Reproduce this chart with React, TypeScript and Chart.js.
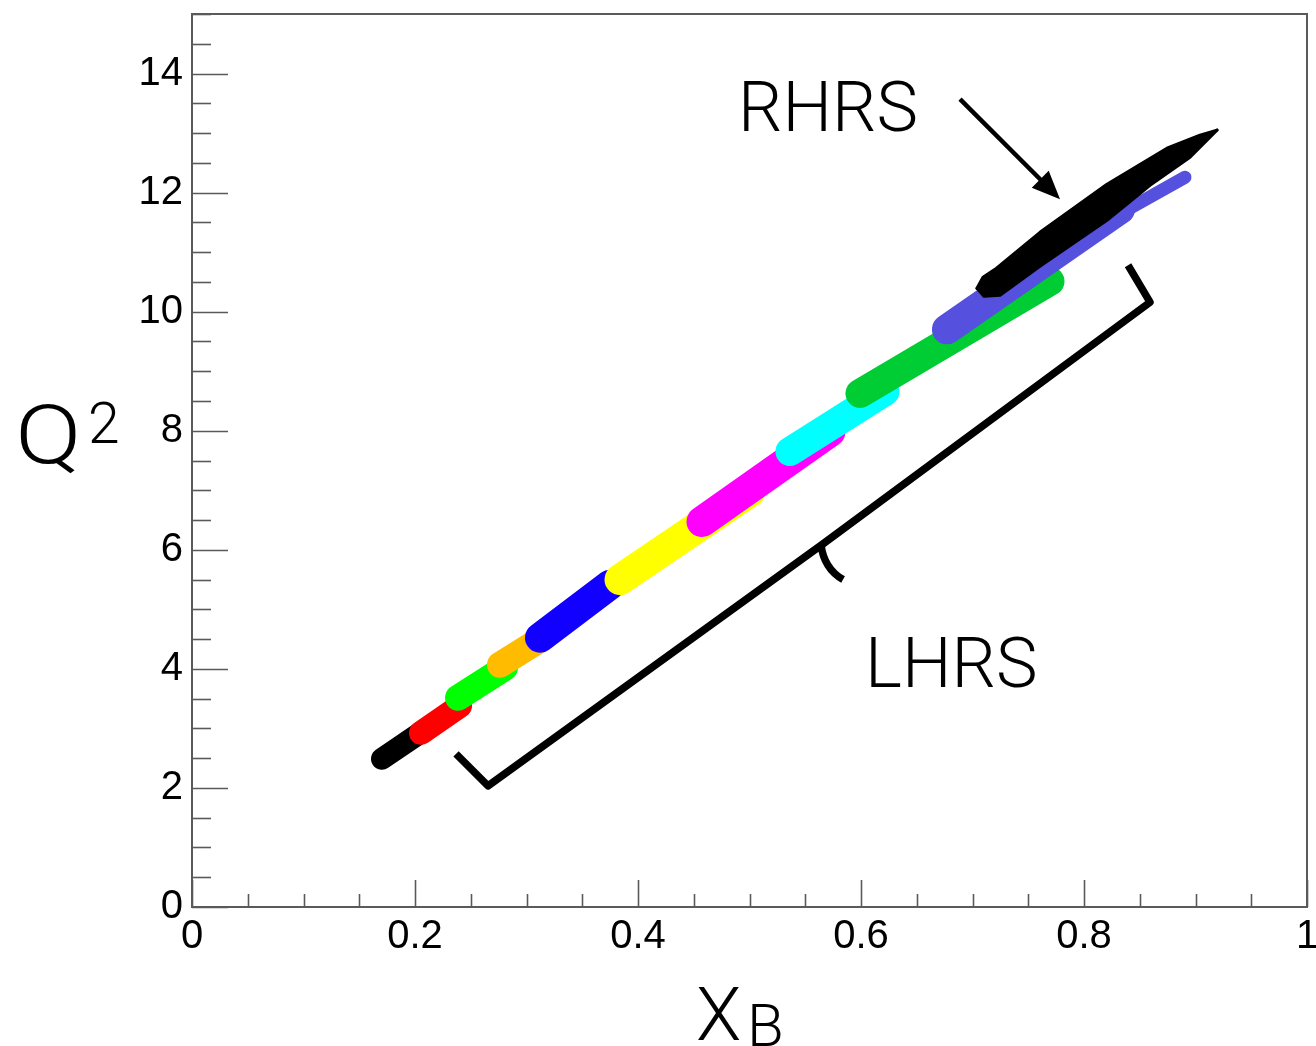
import React, { useEffect, useRef } from 'react';
import { Chart, registerables } from 'chart.js';

Chart.register(...registerables);

// Axis ticks
const xTicks = [0, 0.2, 0.4, 0.6, 0.8, 1];
const xTickLabels = ['0', '0.2', '0.4', '0.6', '0.8', '1'];
const yTicks = [0, 2, 4, 6, 8, 10, 12, 14];
const yTickLabels = ['0', '2', '4', '6', '8', '10', '12', '14'];

// LHRS kinematic bins: [xB, Q2] centre-line points of each populated band
const lhrsBin1 = [[0.1704, 2.49], [0.2152, 3.06]];
const lhrsBin2 = [[0.2054, 2.926], [0.2404, 3.38]];
const lhrsBin3 = [[0.2386, 3.514], [0.2807, 4.019]];
const lhrsBin4 = [[0.2762, 4.069], [0.3121, 4.49]];
const lhrsBin5 = [[0.3121, 4.523], [0.3749, 5.414]];
const lhrsBin6 = [[0.3839, 5.499], [0.5004, 6.978]];
const lhrsBin7 = [[0.4574, 6.474], [0.5722, 7.987]];
const lhrsBin8 = [[0.5363, 7.651], [0.6215, 8.66]];
const lhrsBin9 = [[0.5991, 8.626], [0.7695, 10.51]];
const lhrsBin10 = [[0.6771, 9.703], [0.8323, 11.72]];
const lhrsBin10Tail = [[0.8233, 11.55], [0.8906, 12.258]];
// RHRS band: upper and lower envelope [xB, Q2]
const rhrsUpperEdge = [
  [0.704, 10.392], [0.7094, 10.577], [0.7202, 10.711], [0.7605, 11.333],
  [0.8206, 12.14], [0.8744, 12.746], [0.904, 12.965], [0.9193, 13.049],
];
const rhrsLowerEdge = [
  [0.704, 10.392], [0.7103, 10.257], [0.7247, 10.274], [0.7605, 10.762],
  [0.8206, 11.535], [0.8592, 12.123], [0.8951, 12.594], [0.9193, 13.049],
];

const seriesList = [
  lhrsBin1, lhrsBin2, lhrsBin3, lhrsBin4, lhrsBin5, lhrsBin6, lhrsBin7,
  lhrsBin8, lhrsBin9, lhrsBin10, lhrsBin10Tail, rhrsUpperEdge, rhrsLowerEdge,
];
const seriesColors = [
  '#000000', '#ff0000', '#00ff00', '#ffbb00', '#1100ff', '#ffff00', '#ff00ff',
  '#00ffff', '#00cc33', '#5550dd', '#5550dd', '#000000', '#000000',
];
const seriesWidths = [22, 24, 26, 26, 30, 31, 31, 29, 29, 30, 13, 3, 3];
const seriesFill: (false | string)[] = [
  false, false, false, false, false, false, false, false, false, false, false, '+1', false,
];

const decor = {
  id: 'decor',
  afterDraw(chart: any) {
    const { ctx, chartArea: a, scales } = chart;
    const xs = scales.x;
    const ys = scales.y;
    ctx.save();
    // frame
    ctx.strokeStyle = '#5a5a5a';
    ctx.lineWidth = 2;
    ctx.strokeRect(a.left, a.top, a.right - a.left, a.bottom - a.top);
    // y ticks (inward)
    ctx.lineWidth = 1.6;
    for (let i = 0; i <= 30; i++) {
      const v = i * 0.5;
      if (v > ys.max) break;
      const py = Math.round(ys.getPixelForValue(v)) + 0.5;
      const len = i % 4 === 0 ? 36 : 19;
      ctx.beginPath();
      ctx.moveTo(a.left, py);
      ctx.lineTo(a.left + len, py);
      ctx.stroke();
    }
    // x ticks (inward)
    for (let i = 0; i <= 20; i++) {
      const v = i * 0.05;
      const px = Math.round(xs.getPixelForValue(v)) + 0.5;
      const len = i % 4 === 0 ? 27 : 13;
      ctx.beginPath();
      ctx.moveTo(px, a.bottom);
      ctx.lineTo(px, a.bottom - len);
      ctx.stroke();
    }

    const P = (x: number, y: number) => [xs.getPixelForValue(x), ys.getPixelForValue(y)];

    // Arrow to RHRS band
    ctx.strokeStyle = '#000';
    ctx.fillStyle = '#000';
    const [sx, sy] = P(0.6888, 13.57);
    const [tx, ty] = P(0.7785, 11.89);
    const dx = tx - sx, dy = ty - sy;
    const L = Math.hypot(dx, dy);
    const ux = dx / L, uy = dy / L;
    const bx = tx - ux * 28, by = ty - uy * 28;
    ctx.lineWidth = 4.5;
    ctx.beginPath();
    ctx.moveTo(sx, sy);
    ctx.lineTo(bx + ux * 2, by + uy * 2);
    ctx.stroke();
    ctx.beginPath();
    ctx.moveTo(tx, ty);
    ctx.lineTo(bx - uy * 12, by + ux * 12);
    ctx.lineTo(bx + uy * 12, by - ux * 12);
    ctx.closePath();
    ctx.fill();

    // Brace for LHRS
    ctx.lineWidth = 7.5;
    ctx.lineJoin = 'round';
    ctx.lineCap = 'butt';
    const brace = [[0.8395, 10.78], [0.8592, 10.16], [0.565, 6.087], [0.2655, 2.035], [0.2368, 2.573]];
    ctx.beginPath();
    brace.forEach(([bxv, byv], i) => {
      const [px, py] = P(bxv, byv);
      if (i === 0) ctx.moveTo(px, py); else ctx.lineTo(px, py);
    });
    ctx.stroke();
    const [m1x, m1y] = P(0.565, 6.087);
    const [m2x, m2y] = P(0.5839, 5.5);
    ctx.beginPath();
    ctx.moveTo(m1x - 1, m1y);
    ctx.quadraticCurveTo(m1x + 2, m1y + 24, m2x, m2y);
    ctx.stroke();

    // Labels
    ctx.fillStyle = '#000';
    ctx.textBaseline = 'alphabetic';
    ctx.textAlign = 'left';
    ctx.font = '300 70px Roboto, "Liberation Sans", sans-serif';
    const [rx, ry] = P(0.4897, 13.03);
    ctx.fillText('RHRS', rx, ry);
    const [lx, ly] = P(0.6036, 3.7);
    ctx.fillText('LHRS', lx, ly);

    // Axis titles
    ctx.save();
    ctx.translate(15, 463);
    ctx.scale(1.2, 1);
    ctx.font = '300 82px Roboto, "Liberation Sans", sans-serif';
    ctx.fillText('Q', 0, 0);
    ctx.restore();
    ctx.font = '300 57px Roboto, "Liberation Sans", sans-serif';
    ctx.fillText('2', 88, 443);
    ctx.font = '300 74px Roboto, "Liberation Sans", sans-serif';
    ctx.fillText('X', 696, 1040);
    ctx.font = '300 60px Roboto, "Liberation Sans", sans-serif';
    ctx.fillText('B', 747, 1046);
    ctx.restore();
  },
};

export default function App() {
  const ref = useRef<HTMLCanvasElement>(null);
  useEffect(() => {
    document.body.style.margin = '0';
    const datasets = seriesList.map((pts, i) => ({
      data: pts.map(([x, y]) => ({ x, y })),
      showLine: true,
      borderColor: seriesColors[i],
      backgroundColor: seriesColors[i],
      borderWidth: seriesWidths[i],
      borderCapStyle: 'round' as const,
      borderJoinStyle: 'round' as const,
      pointRadius: 0,
      pointHoverRadius: 0,
      fill: seriesFill[i],
      tension: 0,
      order: seriesList.length - i,
    }));
    const chart = new Chart(ref.current!, {
      type: 'scatter',
      data: { datasets } as any,
      options: {
        animation: false,
        responsive: false,
        events: [],
        layout: { padding: { top: 14, right: 9, left: 0, bottom: 0 } },
        plugins: { legend: { display: false }, tooltip: { enabled: false } },
        scales: {
          x: {
            type: 'linear',
            min: 0,
            max: 1,
            grid: { display: false, drawTicks: false },
            border: { display: false },
            afterBuildTicks: (s: any) => { s.ticks = xTicks.map((v) => ({ value: v })); },
            afterFit: (s: any) => { s.height = 139; s.paddingLeft = 0; s.paddingRight = 0; },
            ticks: {
              padding: 6,
              color: '#000',
              maxRotation: 0,
              autoSkip: false,
              font: { family: '"Liberation Sans", Arial, sans-serif', size: 40 },
              callback: (_v: any, i: number) => xTickLabels[i],
            },
          },
          y: {
            type: 'linear',
            min: 0,
            max: 15,
            grid: { display: false, drawTicks: false },
            border: { display: false },
            afterBuildTicks: (s: any) => { s.ticks = yTicks.map((v) => ({ value: v })); },
            afterFit: (s: any) => { s.width = 192; s.paddingTop = 0; s.paddingBottom = 0; },
            ticks: {
              padding: 9,
              color: '#000',
              autoSkip: false,
              font: { family: '"Liberation Sans", Arial, sans-serif', size: 40 },
              callback: (_v: any, i: number) => yTickLabels[i],
            },
          },
        },
      },
      plugins: [decor],
    } as any);
    return () => chart.destroy();
  }, []);
  return <canvas ref={ref} width={1316} height={1046} style={{ display: 'block' }} />;
}
